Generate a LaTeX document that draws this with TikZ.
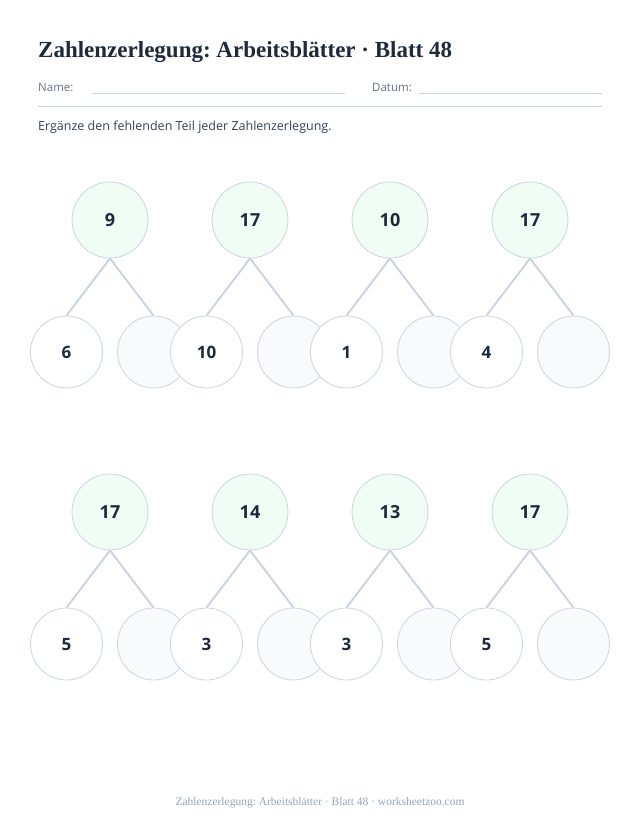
\documentclass[tikz,border=0pt]{standalone}
\usepackage{fontspec}
\setmainfont{Liberation Serif}
\newfontfamily\labelfont{Open Sans}
\usetikzlibrary{positioning}
\frenchspacing

\definecolor{ink}{HTML}{1E293B}
\definecolor{rim}{HTML}{CBD5E1}
\definecolor{wholefill}{HTML}{F0FDF4}
\definecolor{gapfill}{HTML}{F8FAFC}
\definecolor{hint}{HTML}{64748B}
\definecolor{body}{HTML}{334155}
\definecolor{foot}{HTML}{94A3B8}

\begin{document}
\begin{tikzpicture}[x=1pt, y=-1pt,
% Circle styles
		whole/.style={circle
							    , fill=wholefill
							    , draw=rim, line width=0.8pt
							    , minimum size=76pt
							    , inner sep=0pt
							    , text height=12.5pt, text depth=0pt
							    , text=ink
							    , font=\labelfont\bfseries\fontsize{18}{18}\selectfont},
		part/.style={circle
							    , fill=white
							    , draw=rim, line width=0.8pt
							    , minimum size=72pt
							    , inner sep=0pt
							    , text height=12pt, text depth=0pt
							    , text=ink
							    , font=\labelfont\bfseries\fontsize{17}{17}\selectfont},
		gap/.style={part
							    , fill=gapfill},
% Text styles
		heading/.style={anchor=base west, inner sep=0pt, text=ink
							    , font=\bfseries\fontsize{23}{23}\selectfont},
		hinttext/.style={anchor=base west, inner sep=0pt, text=hint
							    , font=\labelfont\fontsize{11.5}{11.5}\selectfont},
		rule/.style={draw=rim, line width=0.8pt},
% Children and edges style
		edge from parent path={(\tikzparentnode.south) -- (\tikzchildnode.north)},
		edge from parent/.style={draw=rim, line width=2pt},
		level 1/.style={sibling distance=87pt
		                , level distance=132pt}
	]
	\useasboundingbox (0,0) rectangle (640,829);
%% Header
	\node [heading] (title) at (38,58) {Zahlenzerlegung: Arbeitsblätter · Blatt 48};
	\node [hinttext] (name) at (38,92) {Name:};
	\node [hinttext] (date) at (372,92) {Datum:};
	\coordinate (n1) at (92,93);
	\coordinate (n2) at (345,93);
	\coordinate (d1) at (419,93);
	\coordinate (d2) at (602,93);
	\coordinate (h1) at (38,106);
	\coordinate (h2) at (602,106);
	\draw [rule] (n1) -- (n2);
	\draw [rule] (d1) -- (d2);
	\draw [rule] (h1) -- (h2);
	\node [anchor=base west, inner sep=0pt, text=body, font=\labelfont\fontsize{12.5}{12.5}\selectfont] (task) at (38,131)
		{Ergänze den fehlenden Teil jeder Zahlenzerlegung.};
%% First row
	\node [whole] (t1) at (110,220) {9}
		child {node [part] (l1) {6}}
		child {node [gap] (r1) {}};
	\node [whole] (t2) at (250,220) {17}
		child {node [part] (l2) {10}}
		child {node [gap] (r2) {}};
	\node [whole] (t3) at (390,220) {10}
		child {node [part] (l3) {1}}
		child {node [gap] (r3) {}};
	\node [whole] (t4) at (530,220) {17}
		child {node [part] (l4) {4}}
		child {node [gap] (r4) {}};
%% Second row
	\node [whole] (t5) at (110,512) {17}
		child {node [part] (l5) {5}}
		child {node [gap] (r5) {}};
	\node [whole] (t6) at (250,512) {14}
		child {node [part] (l6) {3}}
		child {node [gap] (r6) {}};
	\node [whole] (t7) at (390,512) {13}
		child {node [part] (l7) {3}}
		child {node [gap] (r7) {}};
	\node [whole] (t8) at (530,512) {17}
		child {node [part] (l8) {5}}
		child {node [gap] (r8) {}};
%% Footer
	\node [anchor=base, inner sep=0pt, text=foot, font=\fontsize{11.5}{11.5}\selectfont] (footer) at (320,805)
		{Zahlenzerlegung: Arbeitsblätter · Blatt 48 · worksheetzoo.com};
\end{tikzpicture}
\end{document}
